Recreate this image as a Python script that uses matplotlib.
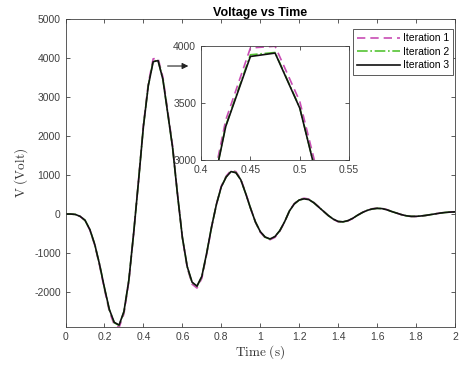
import numpy as np
import matplotlib
matplotlib.use("Agg")
import matplotlib.pyplot as plt

plt.rcParams['font.family'] = ['Liberation Sans', 'DejaVu Sans']
plt.rcParams['mathtext.fontset'] = 'cm'
plt.rcParams['axes.unicode_minus'] = False

# sample times (s)
t = np.arange(81) * 0.025

# voltage, one list per iteration
v_iter3 = [0, 0, -10, -60, -160, -400, -780, -1300, -1900, -2450,
           -2780, -2850, -2500, -1700, -480, 860, 2250, 3294, 3910, 3940,
           3456, 2580, 1700, 500, -600, -1350, -1750, -1850, -1600, -1000,
           -330, 250, 700, 950, 1090, 1060, 880, 530, 150, -200,
           -450, -590, -640, -580, -430, -200, 80, 260, 360, 390,
           370, 290, 180, 70, -40, -130, -190, -200, -170, -110,
           -30, 40, 95, 130, 145, 140, 110, 65, 25, -15,
           -45, -60, -60, -50, -35, -15, 5, 25, 40, 50, 55]
v_iter2 = [0, 0, -10, -60, -160, -400, -780, -1300, -1900, -2460,
           -2790, -2860, -2510, -1700, -480, 860, 2260, 3300, 3925, 3945,
           3460, 2585, 1700, 500, -600, -1355, -1760, -1855, -1605, -1000,
           -330, 250, 700, 955, 1095, 1065, 880, 530, 150, -200,
           -450, -595, -645, -580, -430, -200, 80, 260, 360, 392,
           372, 290, 180, 70, -40, -130, -190, -202, -170, -110,
           -30, 40, 95, 130, 146, 140, 110, 65, 25, -15,
           -45, -60, -60, -50, -35, -15, 5, 25, 40, 50, 55]
v_iter1 = [0, 0, -10, -62, -165, -410, -800, -1330, -1940, -2500,
           -2840, -2910, -2560, -1740, -490, 870, 2290, 3350, 3985, 4000,
           3515, 2640, 1740, 520, -610, -1380, -1800, -1900, -1650, -1030,
           -340, 255, 715, 975, 1120, 1090, 900, 545, 155, -205,
           -465, -610, -660, -600, -445, -210, 80, 270, 375, 405,
           385, 300, 185, 72, -42, -135, -198, -210, -178, -115,
           -32, 42, 100, 136, 152, 146, 115, 68, 26, -16,
           -47, -63, -63, -53, -37, -16, 5, 26, 42, 53, 58]

labels = ['Iteration 1', 'Iteration 2', 'Iteration 3']
colors = ['#C84DB4', '#55C433', '#111111']
styles = [(0, (5, 3)), '-.', '-']
series = [v_iter1, v_iter2, v_iter3]

fig = plt.figure(figsize=(4.6, 3.67), dpi=100)
ax = fig.add_axes([0.1425, 0.109, 0.8465, 0.8385])

lines = []
for v, lab, c, ls in zip(series, labels, colors, styles):
    ln, = ax.plot(t, v, color=c, ls=ls, lw=1.2, label=lab)
    lines.append(ln)

ax.set_xlim(0, 2)
ax.set_ylim(-2900, 5000)
ax.set_xticks(np.arange(0, 2.01, 0.2))
ax.set_xticklabels(['0', '0.2', '0.4', '0.6', '0.8', '1', '1.2', '1.4', '1.6', '1.8', '2'])
ax.set_yticks(np.arange(-2000, 5001, 1000))
ax.tick_params(direction='in', top=True, right=True, labelsize=7.5, colors='#404040',
               length=3, width=0.6, labelcolor='#404040')
for s in ax.spines.values():
    s.set_linewidth(0.6)
    s.set_color('#404040')
ax.set_title('Voltage vs Time', fontsize=9, fontweight='bold', pad=2)
ax.set_xlabel(r'$\mathrm{Time\ (s)}$', fontsize=9.5, labelpad=1, color='#333333')
ax.set_ylabel(r'$\mathrm{V\ (Volt)}$', fontsize=9.5, labelpad=3, color='#333333')

# arrow pointing to the zoomed region
ax.annotate('', xy=(0.645, 3800), xytext=(0.51, 3800),
            arrowprops=dict(arrowstyle='-|>', color='#222222', lw=0.8, mutation_scale=9))

# inset zoom on the first peak
axin = fig.add_axes([0.437, 0.564, 0.322, 0.31])
for v, c, ls in zip(series, colors, styles):
    axin.plot(t, v, color=c, ls=ls, lw=1.2)
axin.set_xlim(0.4, 0.55)
axin.set_ylim(3000, 4000)
axin.set_xticks([0.4, 0.45, 0.5, 0.55])
axin.set_xticklabels(['0.4', '0.45', '0.5', '0.55'])
axin.set_yticks([3000, 3500, 4000])
axin.tick_params(direction='in', top=True, right=True, labelsize=7.5, colors='#404040',
                 length=3, width=0.6, labelcolor='#404040')
for s in axin.spines.values():
    s.set_linewidth(0.6)
    s.set_color('#404040')

leg = fig.legend(lines, labels, loc='upper right', bbox_to_anchor=(453 / 460, 1 - 29 / 367),
                 fontsize=7.5, handlelength=4.2, handletextpad=0.2, borderpad=0.4,
                 labelspacing=0.35, fancybox=False, framealpha=1, borderaxespad=0)
leg.get_frame().set_edgecolor('#404040')
leg.get_frame().set_linewidth(0.6)

fig.savefig('out.png', dpi=100)
